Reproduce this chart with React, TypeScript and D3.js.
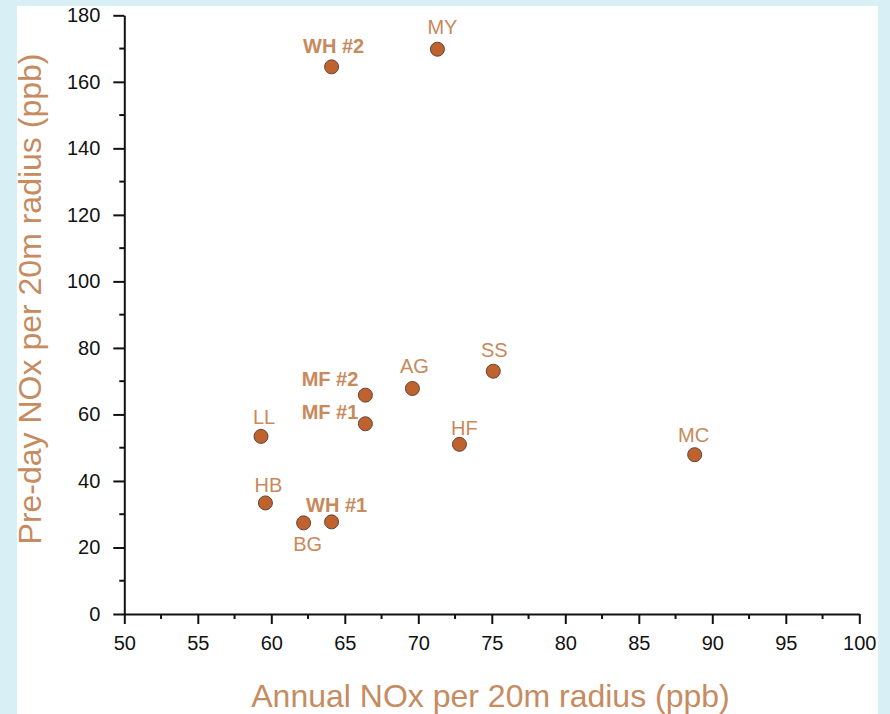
import React, { useEffect, useRef } from 'react';
import * as d3 from 'd3';

// Site codes and NOx values (ppb)
const sites = ['WH #2', 'MY', 'SS', 'AG', 'MF #2', 'MF #1', 'LL', 'HF', 'MC', 'HB', 'WH #1', 'BG'];
const annualNox = [64.1, 71.3, 75.1, 69.6, 66.4, 66.4, 59.3, 72.8, 88.8, 59.6, 64.1, 62.2];
const predayNox = [164.5, 169.8, 73.0, 67.8, 65.8, 57.2, 53.4, 51.0, 47.9, 33.4, 27.7, 27.4];
const boldSites = ['WH #2', 'MF #2', 'MF #1', 'WH #1'];

const xTicks = [50, 55, 60, 65, 70, 75, 80, 85, 90, 95, 100];
const yTicks = [0, 20, 40, 60, 80, 100, 120, 140, 160, 180];

// label placement relative to each marker: [dx, dy, anchor]
const labelPlace: [number, number, string][] = [
    [2, -14, 'middle'], [5, -15, 'middle'], [1, -14, 'middle'], [2, -15, 'middle'],
    [-7, -9, 'end'], [-7, -5, 'end'], [3, -12, 'middle'], [5, -9, 'middle'],
    [-1, -13, 'middle'], [3, -11, 'middle'], [5, -10, 'middle'], [4, 28, 'middle'],
];

const W = 890;
const H = 714;
const FONT = '"Liberation Sans", Arial, Helvetica, sans-serif';
const labelColor = '#c8895c';

export default function App() {
    const svgRef = useRef<SVGSVGElement>(null);

    useEffect(() => {
        if (!svgRef.current) return;
        const svg = d3.select(svgRef.current);
        svg.selectAll('*').remove();

        const left = 124.3, right = 859.3, top = 15.3, bottom = 614;

        // background + white panel
        svg.append('rect').attr('width', W).attr('height', H).attr('fill', '#d7eff5');
        svg.append('rect').attr('x', 17).attr('y', 6).attr('width', 861).attr('height', H - 6).attr('fill', '#ffffff');

        const x = d3.scaleLinear().domain([50, 100]).range([left, right]);
        const y = d3.scaleLinear().domain([0, 180]).range([bottom, top]);

        // minor ticks
        const xMinor = d3.range(52.5, 100, 5);
        const yMinor = d3.range(10, 180, 20);
        svg.append('g').selectAll('line').data(xMinor).join('line')
            .attr('x1', d => x(d)).attr('x2', d => x(d))
            .attr('y1', bottom).attr('y2', bottom + 5)
            .attr('stroke', '#111').attr('stroke-width', 2);
        svg.append('g').selectAll('line').data(yMinor).join('line')
            .attr('y1', d => y(d)).attr('y2', d => y(d))
            .attr('x1', left).attr('x2', left - 5)
            .attr('stroke', '#111').attr('stroke-width', 2);

        const xAxis = svg.append('g')
            .attr('transform', `translate(0,${bottom})`)
            .call(d3.axisBottom(x).tickValues(xTicks).tickSize(10).tickSizeOuter(0).tickPadding(12));
        const yAxis = svg.append('g')
            .attr('transform', `translate(${left},0)`)
            .call(d3.axisLeft(y).tickValues(yTicks).tickSize(11).tickSizeOuter(0).tickPadding(13));

        [xAxis, yAxis].forEach(a => {
            a.attr('font-size', null).attr('font-family', null);
            a.select('.domain').attr('stroke', '#111').attr('stroke-width', 2);
            a.selectAll('.tick line').attr('stroke', '#111').attr('stroke-width', 2);
            a.selectAll('.tick text')
                .attr('fill', '#111')
                .style('font-family', FONT)
                .style('font-size', '20px');
        });

        // points
        const idx = d3.range(sites.length);
        svg.append('g').selectAll('circle').data(idx).join('circle')
            .attr('cx', i => x(annualNox[i]))
            .attr('cy', i => y(predayNox[i]))
            .attr('r', 7)
            .attr('fill', '#c0622e')
            .attr('stroke', '#5e4536')
            .attr('stroke-width', 1);

        svg.append('g').selectAll('text').data(idx).join('text')
            .attr('x', i => x(annualNox[i]) + labelPlace[i][0])
            .attr('y', i => y(predayNox[i]) + labelPlace[i][1])
            .attr('text-anchor', i => labelPlace[i][2])
            .attr('fill', labelColor)
            .style('font-family', FONT)
            .style('font-size', '20px')
            .style('font-weight', i => (boldSites.includes(sites[i]) ? 'bold' : 'normal'))
            .text(i => sites[i]);

        // axis titles
        svg.append('text')
            .attr('x', 490.5).attr('y', 707)
            .attr('text-anchor', 'middle')
            .attr('fill', '#c68b5f')
            .style('font-family', FONT)
            .style('font-size', '32px')
            .text('Annual NOx per 20m radius (ppb)');

        svg.append('text')
            .attr('transform', 'translate(41,299) rotate(-90)')
            .attr('text-anchor', 'middle')
            .attr('fill', '#c68b5f')
            .style('font-family', FONT)
            .style('font-size', '32px')
            .text('Pre-day NOx per 20m radius (ppb)');
    }, []);

    return (
        <svg
            ref={svgRef}
            width={W}
            height={H}
            style={{ position: 'fixed', left: 0, top: 0, display: 'block' }}
        />
    );
}
